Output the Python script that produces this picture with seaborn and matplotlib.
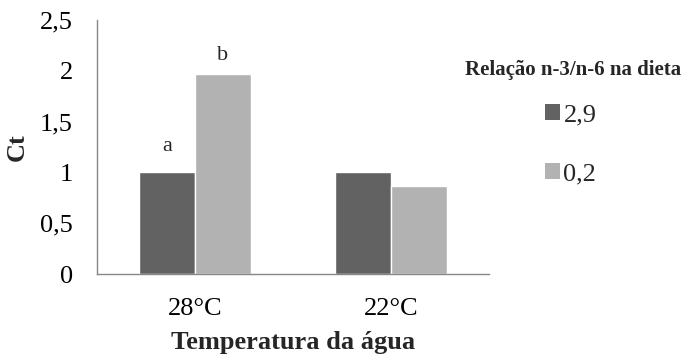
import matplotlib
matplotlib.use("Agg")
import matplotlib.pyplot as plt
import seaborn as sns
import pandas as pd
from matplotlib.patches import Patch

temperatures = ["28°C", "22°C"]
ratios = ["2,9", "0,2"]
values_29 = [1.0, 1.0]
values_02 = [1.97, 0.87]
letters_29 = ["a", ""]
letters_02 = ["b", ""]
yticks = [0, 0.5, 1, 1.5, 2, 2.5]
ytick_labels = ["0", "0,5", "1", "1,5", "2", "2,5"]

df = pd.DataFrame({
    "Temperatura": temperatures * 2,
    "Relação": [ratios[0]] * 2 + [ratios[1]] * 2,
    "Ct": values_29 + values_02,
})

sns.set_theme(style="white")
plt.rcParams["font.family"] = ["Liberation Serif", "DejaVu Serif"]

colors = ["#626262", "#b2b2b2"]
axis_color = "#878787"
fs = 19

fig = plt.figure(figsize=(6.85, 3.56), dpi=100)
ax = fig.add_axes([0.1416, 0.2303, 0.7140 - 0.1416, 0.9438 - 0.2303])

sns.barplot(data=df, x="Temperatura", y="Ct", hue="Relação", order=temperatures,
            hue_order=ratios, palette=colors, width=0.57, saturation=1,
            ax=ax, legend=False, errorbar=None)

ax.set_ylim(0, 2.5)
ax.set_xlim(-0.5, 1.5)
ax.set_yticks(yticks)
ax.set_yticklabels(ytick_labels, fontsize=fs)
ax.set_xticks(range(len(temperatures)))
ax.set_xticklabels(temperatures, fontsize=fs)
ax.set_xticks([-0.5, 0.5, 1.5], minor=True)
ax.tick_params(axis="x", which="major", length=0, pad=17.5)
ax.tick_params(axis="x", which="minor", length=6, direction="out", width=1)
ax.tick_params(axis="y", which="major", length=6, direction="out", width=1, pad=11.5)
ax.tick_params(axis="both", which="both", color=axis_color, labelcolor="black")

for s in ["top", "right"]:
    ax.spines[s].set_visible(False)
for s in ["left", "bottom"]:
    ax.spines[s].set_color(axis_color)
    ax.spines[s].set_linewidth(1)

ax.set_ylabel("Ct", fontsize=fs, fontweight="bold", labelpad=8)
ax.set_xlabel("Temperatura da água", fontsize=fs, fontweight="bold", labelpad=7.5)

# letters above bars
letter_gap = {"a": 0.21, "b": 0.14}
for cont, letters in zip(ax.containers, [letters_29, letters_02]):
    for patch, lab in zip(cont.patches, letters):
        if lab:
            ax.text(patch.get_x() + patch.get_width() / 2,
                    patch.get_height() + letter_gap.get(lab, 0.15), lab,
                    ha="center", va="baseline", fontsize=16)

fig.text(573 / 685, 1 - 70 / 356, "Relação n-3/n-6 na dieta", ha="center", va="center",
         fontsize=15, fontweight="bold")

handles = [Patch(facecolor=c, edgecolor="none") for c in colors]
leg = fig.legend(handles, ratios, loc="center left",
                 bbox_to_anchor=(545 / 685, 1 - 144.5 / 356), frameon=False,
                 fontsize=fs, handlelength=0.55, handleheight=0.55, handletextpad=0.15,
                 labelspacing=1.4, borderpad=0, borderaxespad=0)

fig.savefig("out.png", dpi=100)
